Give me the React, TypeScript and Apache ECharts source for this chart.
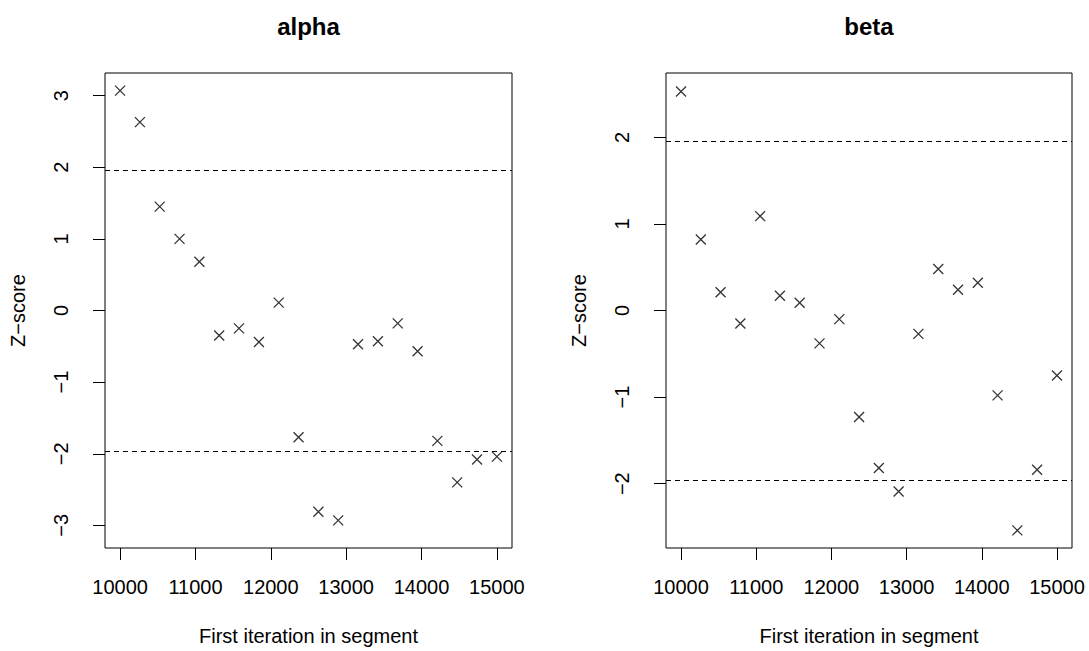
import React, { useEffect, useRef } from "react";
import * as echarts from "echarts";

const iterations = [10000, 10263, 10526, 10789, 11052, 11315, 11578, 11842, 12105, 12368, 12631, 12894, 13157, 13421, 13684, 13947, 14210, 14473, 14736, 15000];
const alphaZ = [3.07, 2.63, 1.45, 1.0, 0.68, -0.35, -0.25, -0.44, 0.11, -1.77, -2.81, -2.93, -0.47, -0.43, -0.18, -0.57, -1.82, -2.4, -2.08, -2.04];
const betaZ = [2.53, 0.82, 0.21, -0.15, 1.09, 0.17, 0.09, -0.38, -0.1, -1.23, -1.82, -2.09, -0.27, 0.48, 0.24, 0.32, -0.98, -2.54, -1.84, -0.75];
const xTicks = [10000, 11000, 12000, 13000, 14000, 15000];
const alphaYTicks = [-3, -2, -1, 0, 1, 2, 3];
const betaYTicks = [-2, -1, 0, 1, 2];
const panelTitles = ["alpha", "beta"];
const critical = 1.96;

const FONT = "'Liberation Sans', Arial, Helvetica, sans-serif";
const CROSS = "path://M0,0L10,10M10,0L0,10";

export default function App() {
  const ref = useRef<HTMLDivElement>(null);
  useEffect(() => {
    if (!ref.current) return;
    const chart = echarts.init(ref.current, null, { renderer: "svg" });
    const lim = (arr: number[]) => {
      const L = Math.max(...arr.map((v) => Math.abs(v)));
      return L * 1.08;
    };
    const aL = lim(alphaZ);
    const bL = lim(betaZ);
    const grids = [
      { left: 105, top: 73, width: 407, height: 477 },
      { left: 666, top: 73, width: 406, height: 477 },
    ];
    const mkX = (i: number) => ({
      type: "value",
      gridIndex: i,
      min: 9800,
      max: 15200,
      axisLine: { show: false, onZero: false },
      splitLine: { show: false },
      axisTick: { show: true, length: 12, customValues: xTicks, lineStyle: { color: "#000", width: 1 } },
      axisLabel: {
        customValues: xTicks,
        margin: 29,
        color: "#000",
        fontSize: 20,
        fontFamily: FONT,
        formatter: (v: number) => String(v),
      },
      name: "First iteration in segment",
      nameLocation: "middle",
      nameGap: 78,
      nameTextStyle: { color: "#000", fontSize: 20, fontFamily: FONT },
    });
    const mkY = (i: number, L: number, ticks: number[]) => ({
      type: "value",
      gridIndex: i,
      min: -L,
      max: L,
      axisLine: { show: false, onZero: false },
      splitLine: { show: false },
      axisTick: { show: true, length: 12, customValues: ticks, lineStyle: { color: "#000", width: 1 } },
      axisLabel: {
        customValues: ticks,
        rotate: 90,
        margin: 34,
        color: "#000",
        fontSize: 20,
        fontFamily: FONT,
        formatter: (v: number) => String(Math.round(v)).replace("-", "\u2212"),
      },
      name: "Z\u2212score",
      nameLocation: "middle",
      nameGap: 77,
      nameTextStyle: { color: "#000", fontSize: 20, fontFamily: FONT },
    });
    const mkSeries = (i: number, vals: number[]) => ({
      type: "scatter",
      xAxisIndex: i,
      yAxisIndex: i,
      data: iterations.map((x, k) => [x, vals[k]]),
      symbol: CROSS,
      symbolSize: 10,
      itemStyle: { color: "none", borderColor: "#000", borderWidth: 1.3 },
      markLine: {
        silent: true,
        symbol: "none",
        label: { show: false },
        lineStyle: { color: "#000", type: [5, 4], width: 1 },
        data: [{ yAxis: critical }, { yAxis: -critical }],
      },
    });
    chart.setOption({
      animation: false,
      backgroundColor: "#fff",
      grid: grids.map((g) => ({ ...g, show: true, borderColor: "#000", borderWidth: 1, backgroundColor: "transparent" })),
      xAxis: [mkX(0), mkX(1)],
      yAxis: [mkY(0, aL, alphaYTicks), mkY(1, bL, betaYTicks)],
      series: [mkSeries(0, alphaZ), mkSeries(1, betaZ)],
      graphic: panelTitles.map((t, i) => ({
        type: "text",
        x: grids[i].left + grids[i].width / 2,
        y: 26,
        style: {
          text: t,
          fill: "#000",
          font: `bold 24px ${FONT}`,
          textAlign: "center",
          textVerticalAlign: "middle",
        },
      })),
    });
    return () => chart.dispose();
  }, []);
  return <div ref={ref} style={{ position: "absolute", left: 0, top: 0, width: 1089, height: 651 }} />;
}
